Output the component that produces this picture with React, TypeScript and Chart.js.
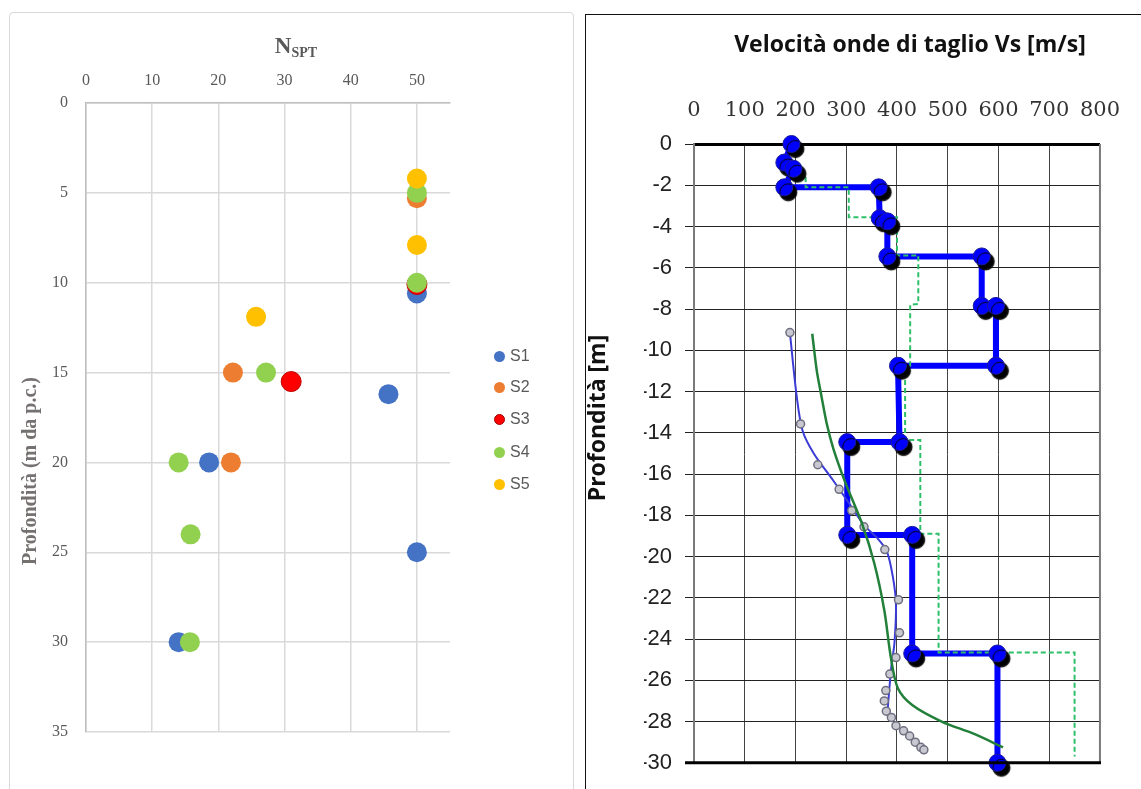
import React, { useEffect, useRef } from "react";
import { Chart, registerables } from "chart.js";
Chart.register(...registerables);

// ---------- Left chart: N_SPT vs depth ----------
const seriesNames = ["S1", "S2", "S3", "S4", "S5"];
const seriesColors = ["#4472C4", "#ED7D31", "#FF0000", "#92D050", "#FFC000"];
const seriesBorders = ["#4472C4", "#ED7D31", "#C00000", "#92D050", "#FFC000"];
const S1_N = [50, 45.7, 18.6, 50, 14];
const S1_D = [10.6, 16.2, 20, 25, 30];
const S2_N = [50, 22.2, 21.9];
const S2_D = [5.3, 15, 20];
const S3_N = [50, 31];
const S3_D = [10.1, 15.5];
const S4_N = [50, 50, 27.2, 14, 15.8, 15.7];
const S4_D = [5, 10, 15, 20, 24, 30];
const S5_N = [50, 50, 25.7];
const S5_D = [4.2, 7.9, 11.9];
const nsptSeries = [
  [S1_N, S1_D],
  [S2_N, S2_D],
  [S3_N, S3_D],
  [S4_N, S4_D],
  [S5_N, S5_D],
];
const nsptAxisMax = 55;
const depthAxisMax = 35;

// ---------- Right chart: Vs profiles ----------
// thick blue step profile (markers at each vertex)
const stepVs = [192, 178, 196, 178, 364, 366, 381, 381, 567, 567, 595, 595, 402, 405, 302, 302, 430, 430, 598, 598];
const stepZ = [0, -0.9, -1.2, -2.1, -2.1, -3.6, -3.75, -5.45, -5.45, -7.85, -7.85, -10.75, -10.75, -14.45, -14.45, -18.95, -18.95, -24.7, -24.7, -30];
// green dashed step profile
const dashVs = [220, 220, 305, 305, 400, 400, 442, 442, 426, 426, 416, 416, 446, 446, 482, 482, 750, 750];
const dashZ = [-1.6, -2.1, -2.1, -3.55, -3.55, -5.4, -5.4, -7.75, -7.8, -10.75, -10.75, -14.35, -14.35, -18.9, -18.9, -24.65, -24.65, -29.7];
// thin blue curve
const thinVs = [189, 202, 214, 236, 274, 305, 336, 361, 380, 392, 398, 395, 389, 385, 381];
const thinZ = [-9.14, -12.15, -13.9, -15.0, -16.3, -17.4, -18.5, -19.1, -19.75, -21.0, -22.3, -24.2, -25.3, -26.4, -27.6];
// grey circle measurements
const greyVs = [189, 210, 244, 286, 311, 335, 376, 403, 405, 398, 386, 378, 375, 379, 389, 398, 413, 425, 436, 447, 453];
const greyZ = [-9.14, -13.57, -15.55, -16.74, -17.77, -18.56, -19.66, -22.1, -23.7, -24.9, -25.7, -26.5, -27.0, -27.5, -27.8, -28.2, -28.45, -28.7, -29.0, -29.25, -29.37];
// green solid curve
const greenVs = [233, 242, 251, 262, 275, 298, 331, 355, 375, 388, 402, 430, 488, 552, 609];
const greenZ = [-9.2, -11.0, -12.2, -13.6, -14.8, -16.4, -18.4, -20.3, -22.6, -24.9, -26.4, -27.2, -28.0, -28.6, -29.25];
const vsMax = 800;
const zMin = -30;

const toXY = (xs: number[], ys: number[]) => xs.map((x, i) => ({ x, y: ys[i] }));

type TextItem = {
  text: string;
  x: number;
  y: number;
  font: string;
  color: string;
  rotate?: number;
  align?: CanvasTextAlign;
};

function textPlugin(items: TextItem[], extra?: (chart: any) => void) {
  return {
    id: "texts" + Math.random().toString(36).slice(2),
    afterDraw(chart: any) {
      const ctx = chart.ctx as CanvasRenderingContext2D;
      for (const it of items) {
        ctx.save();
        ctx.font = it.font;
        ctx.fillStyle = it.color;
        ctx.textAlign = it.align || "center";
        ctx.textBaseline = "middle";
        ctx.translate(it.x, it.y);
        if (it.rotate) ctx.rotate(it.rotate);
        ctx.fillText(it.text, 0, 0);
        ctx.restore();
      }
      if (extra) extra(chart);
    },
  };
}

const shadowPlugin = {
  id: "markerShadow",
  beforeDatasetDraw(chart: any, args: any) {
    const ds = chart.data.datasets[args.index];
    if (ds && ds.markerShadow) {
      const ctx = chart.ctx;
      ctx.save();
      ctx.shadowColor = "rgba(0,0,0,1)";
      ctx.shadowOffsetX = 4;
      ctx.shadowOffsetY = 5;
      ctx.shadowBlur = 1;
    }
  },
  afterDatasetDraw(chart: any, args: any) {
    const ds = chart.data.datasets[args.index];
    if (ds && ds.markerShadow) chart.ctx.restore();
  },
};

function leftConfig(): any {
  const datasets = nsptSeries.map(([xs, ys], i) => ({
    label: seriesNames[i],
    data: toXY(xs, ys),
    backgroundColor: seriesColors[i],
    borderColor: seriesBorders[i],
    borderWidth: i === 2 ? 1 : 0,
    pointRadius: 10,
    pointHoverRadius: 10,
    order: 5 - i,
    clip: false,
  }));
  const nspt = {
    id: "nsptTitle",
    afterDraw(chart: any) {
      const ctx = chart.ctx as CanvasRenderingContext2D;
      ctx.save();
      ctx.fillStyle = "#595959";
      ctx.textBaseline = "alphabetic";
      ctx.textAlign = "left";
      ctx.font = "bold 23px 'Liberation Serif'";
      const wN = ctx.measureText("N").width;
      ctx.font = "bold 14px 'Liberation Serif'";
      const wS = ctx.measureText("SPT").width;
      const x0 = 296 - (wN + wS) / 2;
      ctx.font = "bold 23px 'Liberation Serif'";
      ctx.fillText("N", x0, 53);
      ctx.font = "bold 14px 'Liberation Serif'";
      ctx.fillText("SPT", x0 + wN, 57);
      ctx.restore();
    },
  };
  return {
    type: "scatter",
    data: { datasets },
    options: {
      responsive: false,
      animation: false,
      devicePixelRatio: 1,
      layout: { padding: { left: 46, top: 43, right: 125, bottom: 57 } },
      plugins: { legend: { display: false }, tooltip: { enabled: false } },
      scales: {
        x: {
          type: "linear",
          position: "top",
          min: 0,
          max: nsptAxisMax,
          ticks: {
            stepSize: 10,
            includeBounds: false,
            padding: 13,
            color: "#595959",
            font: { family: "'Liberation Serif'", size: 16 },
          },
          grid: { color: "#d9d9d9", lineWidth: 1.5, drawTicks: false },
          border: { color: "#bfbfbf", width: 1.5 },
          afterFit: (s: any) => {
            s.height = 60;
          },
        },
        y: {
          type: "linear",
          reverse: true,
          min: 0,
          max: depthAxisMax,
          ticks: {
            stepSize: 5,
            padding: 18,
            color: "#595959",
            font: { family: "'Liberation Serif'", size: 16 },
          },
          grid: { color: "#d9d9d9", lineWidth: 1.5, drawTicks: false },
          border: { color: "#bfbfbf", width: 1.5 },
          afterFit: (s: any) => {
            s.width = 40;
          },
        },
      },
    },
    plugins: [
      nspt,
      textPlugin([
        {
          text: "Profondità (m da p.c.)",
          x: 31,
          y: 471,
          rotate: -Math.PI / 2,
          font: "bold 20px 'Liberation Serif'",
          color: "#767171",
        },
      ]),
    ],
  };
}

function rightConfig(): any {
  const datasets = [
    {
      label: "Vs curve green",
      data: toXY(greenVs, greenZ),
      showLine: true,
      borderColor: "#23803a",
      borderWidth: 2.5,
      pointRadius: 0,
      tension: 0.3,
      fill: false,
      order: 1,
    },
    {
      label: "grey points",
      data: toXY(greyVs, greyZ),
      showLine: false,
      pointRadius: 4,
      pointBorderWidth: 1.5,
      pointBorderColor: "#6f6f80",
      pointBackgroundColor: "#c8c8d0",
      order: 2,
    },
    {
      label: "Vs curve blue",
      data: toXY(thinVs, thinZ),
      showLine: true,
      borderColor: "#3b3bd6",
      borderWidth: 2,
      pointRadius: 0,
      tension: 0.3,
      fill: false,
      order: 3,
    },
    {
      label: "markers",
      data: toXY(stepVs, stepZ),
      showLine: false,
      pointRadius: 8.5,
      pointBorderWidth: 1,
      pointBorderColor: "#1b1b9a",
      pointBackgroundColor: "#0000ff",
      markerShadow: true,
      clip: false,
      order: 4,
    },
    {
      label: "dashed step",
      data: toXY(dashVs, dashZ),
      showLine: true,
      borderColor: "#2fbf6a",
      borderWidth: 2,
      borderDash: [5, 3],
      pointRadius: 0,
      tension: 0,
      fill: false,
      order: 5,
    },
    {
      label: "step",
      data: toXY(stepVs, stepZ),
      showLine: true,
      borderColor: "#0000ff",
      borderWidth: 6,
      pointRadius: 0,
      tension: 0,
      fill: false,
      clip: false,
      order: 6,
    },
  ];
  const frame = (chart: any) => {
    const { left, right, top, bottom } = chart.chartArea;
    const ctx = chart.ctx as CanvasRenderingContext2D;
    ctx.save();
    ctx.strokeStyle = "#7a7a7a";
    ctx.lineWidth = 2;
    ctx.beginPath();
    ctx.moveTo(right, top);
    ctx.lineTo(right, bottom);
    ctx.stroke();
    ctx.strokeStyle = "#000";
    ctx.lineWidth = 3;
    ctx.beginPath();
    ctx.moveTo(left - 9, bottom);
    ctx.lineTo(right + 1, bottom);
    ctx.stroke();
    ctx.restore();
  };
  return {
    type: "scatter",
    data: { datasets },
    options: {
      responsive: false,
      animation: false,
      devicePixelRatio: 1,
      layout: { padding: { left: 69, top: 74, right: 20, bottom: 13 } },
      plugins: { legend: { display: false }, tooltip: { enabled: false } },
      scales: {
        x: {
          type: "linear",
          position: "top",
          min: 0,
          max: vsMax,
          ticks: {
            stepSize: 100,
            padding: 21,
            color: "#333",
            font: { family: "'DejaVu Serif'", size: 21 },
          },
          grid: { color: "#444", lineWidth: 1, borderDash: [3, 2], drawTicks: false },
          border: { color: "#000", width: 3 },
          afterFit: (s: any) => {
            s.height = 70;
          },
        },
        y: {
          type: "linear",
          min: zMin,
          max: 0,
          ticks: {
            stepSize: 2,
            padding: 13,
            color: "#222",
            font: { family: "'Liberation Sans'", size: 22 },
          },
          grid: {
            color: "#222",
            lineWidth: 1,
            borderDash: [2, 1],
            drawTicks: true,
            tickLength: 9,
            tickColor: "#222",
            tickBorderDash: [],
          },
          border: { color: "#7a7a7a", width: 2 },
          afterFit: (s: any) => {
            s.width = 50;
          },
        },
      },
    },
    plugins: [
      shadowPlugin,
      textPlugin(
        [
          {
            text: "Velocità onde di taglio Vs [m/s]",
            x: 335,
            y: 45,
            font: "bold 23px 'Open Sans'",
            color: "#111",
          },
          {
            text: "Profondità [m]",
            x: 23,
            y: 418,
            rotate: -Math.PI / 2,
            font: "bold 23px 'Open Sans'",
            color: "#111",
          },
        ],
        frame
      ),
    ],
  };
}

const legendY = [356, 387, 419, 452, 484];

export default function App() {
  const leftRef = useRef<HTMLCanvasElement>(null);
  const rightRef = useRef<HTMLCanvasElement>(null);
  useEffect(() => {
    const c1 = new Chart(leftRef.current as HTMLCanvasElement, leftConfig());
    const c2 = new Chart(rightRef.current as HTMLCanvasElement, rightConfig());
    return () => {
      c1.destroy();
      c2.destroy();
    };
  }, []);
  return (
    <div
      style={{
        position: "fixed",
        left: 0,
        top: 0,
        width: 1141,
        height: 789,
        overflow: "hidden",
        background: "#fff",
      }}
    >
      <div
        style={{
          position: "absolute",
          left: 9,
          top: 12,
          width: 565,
          height: 820,
          border: "1px solid #d9d9d9",
          borderRadius: 4,
          boxSizing: "border-box",
        }}
      />
      <div
        style={{
          position: "absolute",
          left: 585,
          top: 14,
          width: 620,
          height: 820,
          border: "1px solid #111",
          boxSizing: "border-box",
        }}
      />
      <canvas
        ref={leftRef}
        width={575}
        height={789}
        style={{ position: "absolute", left: 0, top: 0 }}
      />
      <canvas
        ref={rightRef}
        width={566}
        height={789}
        style={{ position: "absolute", left: 575, top: 0 }}
      />
      {seriesNames.map((name, i) => (
        <div
          key={name}
          style={{
            position: "absolute",
            left: 494,
            top: legendY[i] - 10,
            height: 20,
            display: "flex",
            alignItems: "center",
            fontFamily: "'Liberation Sans', sans-serif",
            fontSize: 16,
            color: "#595959",
          }}
        >
          <span
            style={{
              display: "inline-block",
              width: 11,
              height: 11,
              borderRadius: "50%",
              background: seriesColors[i],
              boxSizing: "border-box",
              border: i === 2 ? "1px solid #a00000" : "none",
              marginRight: 5,
            }}
          />
          <span>{name}</span>
        </div>
      ))}
    </div>
  );
}
